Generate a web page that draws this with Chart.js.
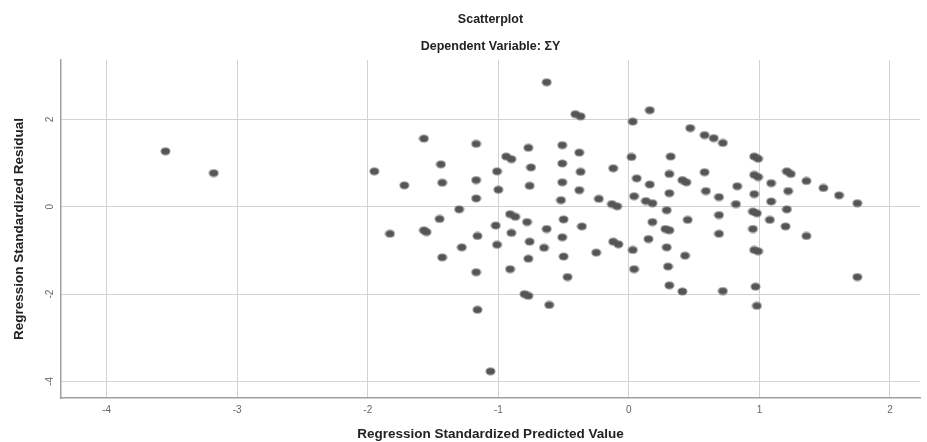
<!DOCTYPE html>
<html>
<head>
<meta charset="utf-8">
<script src="https://cdn.jsdelivr.net/npm/chart.js@4"></script>
<style>
  body { margin: 0; background: #fff; }
  canvas { display: block; }
</style>
</head>
<body>
<canvas id="scatter" width="927" height="442"></canvas>
<script>
// regression standardized predicted value (x) and residual (y)
const predicted = [
  -3.55, -3.18, -1.95, -1.83, -1.72, -1.57, -1.57, -1.55, -1.44, -1.43,
  -1.30, -1.45, -1.43, -1.28, -1.17, -1.17, -1.17, -1.16, -1.17, -1.16,
  -1.06, -1.01, -1.00, -1.02, -1.01, -0.94, -0.90, -0.91, -0.87, -0.90,
  -0.91, -0.80, -0.77, -0.77, -0.75, -0.76, -0.78, -0.76, -0.77, -0.63,
  -0.63, -0.65, -0.61, -0.51, -0.51, -0.51, -0.52, -0.50, -0.51, -0.50,
  -0.47, -0.41, -0.37, -0.38, -0.37, -0.38, -0.36, -0.23, -0.25, -0.13,
  -0.09, -0.12, -0.12, -0.08, 0.03, 0.16, 0.02, 0.06, 0.04, 0.03,
  0.04, 0.16, 0.13, 0.18, 0.18, 0.15, 0.32, 0.31, 0.31, 0.29,
  0.28, 0.31, 0.29, 0.30, 0.31, 0.41, 0.44, 0.45, 0.43, 0.41,
  0.47, 0.58, 0.65, 0.72, 0.58, 0.59, 0.69, 0.69, 0.69, 0.72,
  0.83, 0.82, 0.96, 0.99, 0.96, 0.99, 0.96, 0.95, 0.98, 0.95,
  0.96, 0.99, 0.97, 0.98, 1.09, 1.09, 1.08, 1.21, 1.24, 1.22,
  1.21, 1.20, 1.36, 1.36, 1.49, 1.61, 1.75, 1.75
];
const residual = [
  1.27, 0.77, 0.81, -0.62, 0.49, 1.56, -0.54, -0.58, 0.97, 0.55,
  -0.06, -0.28, -1.16, -0.93, 1.44, 0.61, 0.19, -0.67, -1.50, -2.36,
  -3.77, 0.81, 0.39, -0.43, -0.87, 1.15, 1.09, -0.17, -0.23, -0.60,
  -1.43, -2.00, -2.04, 1.35, 0.90, 0.48, -0.35, -0.80, -1.19, 2.85,
  -0.51, -0.94, -2.25, 1.41, 0.99, 0.56, 0.15, -0.29, -0.70, -1.14,
  -1.61, 2.12, 2.07, 1.24, 0.80, 0.38, -0.45, 0.18, -1.05, 0.06,
  0.01, 0.88, -0.80, -0.86, 1.95, 2.21, 1.14, 0.65, 0.24, -0.99,
  -1.43, 0.51, 0.13, 0.08, -0.35, -0.74, 1.15, 0.75, 0.31, -0.08,
  -0.51, -0.54, -0.93, -1.37, -1.80, 0.61, 0.56, -0.30, -1.12, -1.94,
  1.80, 1.64, 1.57, 1.46, 0.79, 0.36, 0.22, -0.19, -0.62, -1.93,
  0.47, 0.06, 1.15, 1.10, 0.73, 0.68, 0.29, -0.11, -0.15, -0.51,
  -0.99, -1.02, -1.83, -2.27, 0.54, 0.12, -0.30, 0.81, 0.75, 0.36,
  -0.06, -0.45, 0.59, -0.67, 0.43, 0.26, 0.08, -1.61
];
const xTicks = [-4, -3, -2, -1, 0, 1, 2];
const yTicks = [-4, -2, 0, 2];

const FONT = "'Liberation Sans', Arial, sans-serif";

// slightly flattened, soft-edged marker like the SPSS export
function makeMarker() {
  const c = document.createElement("canvas");
  c.width = 11;
  c.height = 9;
  const g = c.getContext("2d");
  g.fillStyle = "rgba(90,90,90,0.45)";
  g.beginPath();
  g.ellipse(5.5, 4.5, 5.2, 4.2, 0, 0, Math.PI * 2);
  g.fill();
  g.fillStyle = "#555";
  g.beginPath();
  g.ellipse(5.5, 4.5, 4.2, 3.3, 0, 0, Math.PI * 2);
  g.fill();
  return c;
}

// titles and the rotated y tick labels
const textPlugin = {
  id: "spssText",
  afterDraw(chart) {
    const ctx = chart.ctx;
    const area = chart.chartArea;
    const cx = (area.left + area.right) / 2;
    ctx.save();
    ctx.fillStyle = "#222";
    ctx.textAlign = "center";
    ctx.textBaseline = "middle";
    ctx.font = "bold 12.5px " + FONT;
    ctx.fillText("Scatterplot", cx, 20);
    ctx.fillText("Dependent Variable: \u03A3Y", cx, 47);

    const yScale = chart.scales.y;
    ctx.fillStyle = "#666";
    ctx.font = "10px " + FONT;
    yTicks.forEach(v => {
      const py = yScale.getPixelForValue(v);
      ctx.save();
      ctx.translate(50, py);
      ctx.rotate(-Math.PI / 2);
      ctx.fillText(String(v), 0, 0);
      ctx.restore();
    });
    ctx.restore();
  }
};

new Chart(document.getElementById("scatter"), {
  type: "scatter",
  data: {
    datasets: [{
      data: predicted.map((x, i) => ({ x: x, y: residual[i] })),
      pointStyle: makeMarker(),
      pointRadius: 4,
      pointHoverRadius: 4
    }]
  },
  options: {
    responsive: false,
    animation: false,
    devicePixelRatio: 1,
    layout: { padding: { top: 60, right: 7, left: 0, bottom: 0 } },
    plugins: {
      legend: { display: false },
      tooltip: { enabled: false }
    },
    scales: {
      x: {
        type: "linear",
        min: -4.35,
        max: 2.23,
        afterBuildTicks: s => { s.ticks = xTicks.map(v => ({ value: v })); },
        afterFit: s => { s.height = 44; },
        grid: { color: "#d2d2d2", drawTicks: false },
        border: { color: "#a0a0a0", width: 1.5 },
        ticks: { color: "#666", font: { family: FONT, size: 10 }, padding: 6 },
        title: {
          display: true,
          text: "Regression Standardized Predicted Value",
          color: "#222",
          font: { family: FONT, size: 13.5, weight: "bold" },
          padding: { top: 7, bottom: 0 }
        }
      },
      y: {
        type: "linear",
        min: -4.38,
        max: 3.36,
        afterBuildTicks: s => { s.ticks = yTicks.map(v => ({ value: v })); },
        afterFit: s => { s.width = 61; },
        grid: { color: "#d2d2d2", drawTicks: false },
        border: { color: "#a0a0a0", width: 1.5 },
        ticks: { display: false },
        title: {
          display: true,
          text: "Regression Standardized Residual",
          color: "#222",
          font: { family: FONT, size: 13.5, weight: "bold" },
          padding: { top: 11, bottom: 0 }
        }
      }
    }
  },
  plugins: [textPlugin]
});
</script>
</body>
</html>
